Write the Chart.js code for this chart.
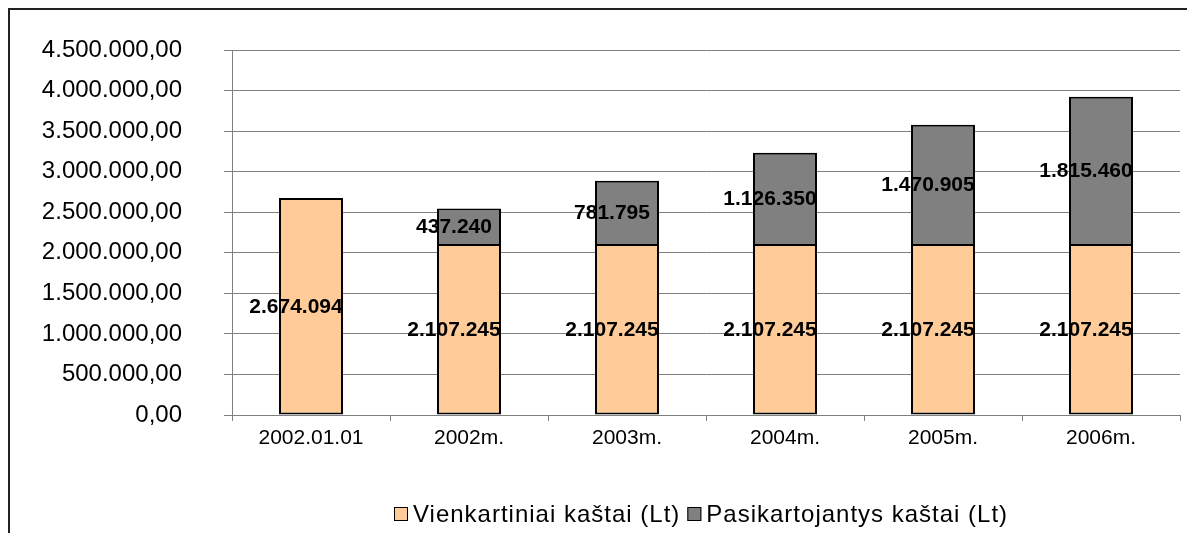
<!DOCTYPE html>
<html lang="lt">
<head>
  <meta charset="UTF-8">
  <title>Kaštai</title>
  <script src="https://cdn.jsdelivr.net/npm/chart.js"></script>
  <style>
    body { margin: 0; background: #fff; }
    canvas { display: block; }
  </style>
</head>
<body>
  <canvas id="kastai" width="1187" height="533"></canvas>

  <script>
    // duomenys
    const metai = ['2002.01.01', '2002m.', '2003m.', '2004m.', '2005m.', '2006m.'];
    const vienkartiniai = [2674094, 2107245, 2107245, 2107245, 2107245, 2107245];
    const pasikartojantys = [null, 437240, 781795, 1126350, 1470905, 1815460];
    const serijos = ['Vienkartiniai kaštai (Lt)', 'Pasikartojantys kaštai (Lt)'];
    const yMax = 4500000;
    const yStep = 500000;

    const FONT = "'Liberation Sans', Arial, sans-serif";

    // 1.234.567 -> tūkstančių skyrimas taškais
    function tasku(n) {
      return String(Math.round(n)).replace(/\B(?=(\d{3})+(?!\d))/g, '.');
    }

    // rėmelis (tik viršus ir kairė)
    const remelis = {
      id: 'remelis',
      beforeDraw(chart) {
        const ctx = chart.ctx;
        ctx.save();
        ctx.fillStyle = '#fff';
        ctx.fillRect(0, 0, chart.width, chart.height);
        ctx.strokeStyle = '#222';
        ctx.lineWidth = 2;
        ctx.beginPath();
        ctx.moveTo(8, 9);
        ctx.lineTo(chart.width, 9);
        ctx.moveTo(9, 8);
        ctx.lineTo(9, chart.height);
        ctx.stroke();
        ctx.restore();
      }
    };

    // reikšmės stulpelių viduryje
    const reiksmes = {
      id: 'reiksmes',
      afterDatasetsDraw(chart) {
        const ctx = chart.ctx;
        ctx.save();
        ctx.font = 'bold 21px ' + FONT;
        ctx.fillStyle = '#000';
        ctx.textAlign = 'center';
        ctx.textBaseline = 'middle';
        chart.data.datasets.forEach((ds, i) => {
          chart.getDatasetMeta(i).data.forEach((bar, j) => {
            const v = ds.data[j];
            if (!v) return;
            ctx.fillText(tasku(v), bar.x - 15, (bar.y + bar.base) / 2 + 1);
          });
        });
        ctx.restore();
      }
    };

    // legenda apačioje
    const legenda = {
      id: 'legenda',
      afterDraw(chart) {
        const ctx = chart.ctx;
        ctx.save();
        ctx.font = '24px ' + FONT;
        ctx.letterSpacing = '1px';
        ctx.textBaseline = 'middle';
        ctx.fillStyle = '#000';
        let x = 394;
        const y = 514;
        chart.data.datasets.forEach(ds => {
          ctx.fillStyle = ds.backgroundColor;
          ctx.fillRect(x, y - 7, 14, 14);
          ctx.strokeStyle = '#000';
          ctx.lineWidth = 1;
          ctx.strokeRect(x + 0.5, y - 6.5, 13, 13);
          ctx.fillStyle = '#000';
          ctx.fillText(ds.label, x + 19, y + 1);
          x += 19 + ctx.measureText(ds.label).width + 7;
        });
        ctx.restore();
      }
    };

    new Chart(document.getElementById('kastai'), {
      type: 'bar',
      data: {
        labels: metai,
        datasets: [
          {
            label: serijos[0],
            data: vienkartiniai,
            backgroundColor: '#FFCC99',
            borderColor: '#000',
            borderWidth: 2,
            borderSkipped: false
          },
          {
            label: serijos[1],
            data: pasikartojantys,
            backgroundColor: '#808080',
            borderColor: '#000',
            borderWidth: 2,
            borderSkipped: 'bottom'
          }
        ]
      },
      options: {
        responsive: false,
        animation: false,
        layout: { padding: { top: 50, right: 7, bottom: 0, left: 0 } },
        datasets: {
          bar: { categoryPercentage: 1, barPercentage: 0.405 }
        },
        plugins: {
          legend: { display: false },
          tooltip: { enabled: false }
        },
        scales: {
          x: {
            stacked: true,
            offset: true,
            afterFit: s => { s.height = 118; s.paddingLeft = 0; s.paddingRight = 0; },
            grid: {
              offset: true,
              drawOnChartArea: false,
              drawTicks: true,
              tickLength: 6,
              color: '#808080'
            },
            border: { display: true, color: '#808080', width: 1 },
            ticks: {
              color: '#000',
              padding: 5,
              maxRotation: 0,
              font: { family: FONT, size: 21 }
            }
          },
          y: {
            stacked: true,
            min: 0,
            max: yMax,
            afterFit: s => { s.width = 232; s.paddingTop = 0; s.paddingBottom = 0; },
            grid: {
              color: '#808080',
              lineWidth: 1,
              drawTicks: true,
              tickLength: 8
            },
            border: { display: true, color: '#808080', width: 1 },
            ticks: {
              stepSize: yStep,
              color: '#000',
              padding: 42,
              font: { family: FONT, size: 24 },
              callback: v => tasku(v) + ',00'
            }
          }
        }
      },
      plugins: [remelis, reiksmes, legenda]
    });
  </script>
</body>
</html>
